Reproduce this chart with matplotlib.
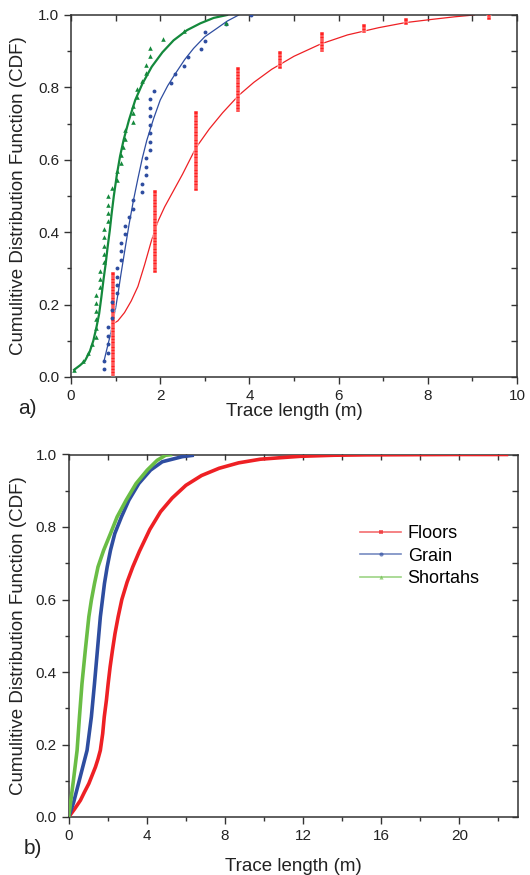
import matplotlib
matplotlib.use("Agg")
import matplotlib.pyplot as plt
from matplotlib.lines import Line2D
from matplotlib.ticker import MultipleLocator
import numpy as np

plt.rcParams['font.family'] = ['Liberation Sans', 'DejaVu Sans']

# ---------------- panel a) ----------------
# green triangles (sample) + green fit
green_x = [0.07, 0.26, 0.37, 0.46, 0.55, 0.55, 0.55, 0.55, 0.55, 0.55, 0.65, 0.65, 0.65,
           0.74, 0.74, 0.74, 0.74, 0.74, 0.84, 0.84, 0.84, 0.84, 0.93, 1.03, 1.03, 1.12,
           1.12, 1.17, 1.21, 1.21, 1.39, 1.39, 1.39, 1.49, 1.49, 1.59, 1.69, 1.69, 1.78,
           1.78, 2.06, 2.53, 3.48]
green_y = [0.020, 0.044, 0.067, 0.090, 0.110, 0.136, 0.159, 0.181, 0.204, 0.226, 0.248,
           0.271, 0.294, 0.318, 0.341, 0.363, 0.386, 0.409, 0.431, 0.453, 0.476, 0.500,
           0.523, 0.545, 0.568, 0.590, 0.613, 0.636, 0.658, 0.681, 0.704, 0.728, 0.750,
           0.773, 0.796, 0.818, 0.841, 0.863, 0.886, 0.909, 0.933, 0.956, 0.978]
green_fit_x = [0.07, 0.20, 0.31, 0.42, 0.50, 0.57, 0.63, 0.68, 0.73, 0.78, 0.82, 0.87,
               0.91, 0.96, 1.03, 1.10, 1.18, 1.30, 1.44, 1.60, 1.81, 2.05, 2.30, 2.60,
               2.90, 3.20, 3.50]
green_fit_y = [0.020, 0.032, 0.044, 0.070, 0.100, 0.137, 0.174, 0.220, 0.270, 0.315,
               0.358, 0.405, 0.450, 0.500, 0.560, 0.610, 0.655, 0.710, 0.765, 0.810,
               0.857, 0.897, 0.930, 0.958, 0.977, 0.992, 1.000]

# blue dots (sample) + blue fit
blue_x = [0.74, 0.74, 0.84, 0.84, 0.84, 0.84, 0.93, 0.93, 0.93, 1.03, 1.03, 1.03, 1.03,
          1.12, 1.12, 1.12, 1.21, 1.21, 1.30, 1.40, 1.40, 1.59, 1.59, 1.69, 1.69, 1.69,
          1.78, 1.78, 1.78, 1.78, 1.78, 1.78, 1.78, 1.87, 2.25, 2.34, 2.53, 2.62, 2.91,
          3.00, 3.00, 3.48, 4.04]
blue_y = [0.021, 0.044, 0.067, 0.090, 0.114, 0.138, 0.162, 0.185, 0.208, 0.231, 0.254,
          0.277, 0.301, 0.324, 0.347, 0.371, 0.394, 0.417, 0.441, 0.464, 0.488, 0.511,
          0.534, 0.558, 0.581, 0.604, 0.627, 0.650, 0.674, 0.697, 0.720, 0.744, 0.767,
          0.790, 0.813, 0.837, 0.860, 0.883, 0.906, 0.929, 0.953, 0.976, 1.000]
blue_fit_x = [0.74, 0.80, 0.87, 0.93, 1.00, 1.06, 1.12, 1.20, 1.30, 1.40, 1.50, 1.60,
              1.70, 1.85, 2.00, 2.17, 2.34, 2.55, 2.75, 3.00, 3.27, 3.50, 3.76]
blue_fit_y = [0.044, 0.075, 0.110, 0.146, 0.190, 0.235, 0.284, 0.345, 0.420, 0.488,
              0.548, 0.605, 0.654, 0.713, 0.765, 0.805, 0.838, 0.877, 0.908, 0.940,
              0.963, 0.983, 1.000]

# red squares: trace lengths and how many traces fall on each
red_len = [0.94, 1.88, 2.81, 3.75, 4.69, 5.63, 6.56, 7.50, 9.38]
red_count = [38, 30, 29, 16, 6, 7, 3, 2, 2]
red_fit_x = [0.93, 1.05, 1.20, 1.35, 1.50, 1.65, 1.80, 1.95, 2.10, 2.30, 2.50, 2.80,
             3.10, 3.40, 3.76, 4.10, 4.50, 5.00, 5.60, 6.20, 6.90, 7.50, 8.10, 8.60, 9.04]
red_fit_y = [0.146, 0.155, 0.178, 0.210, 0.250, 0.310, 0.375, 0.430, 0.470, 0.515,
             0.560, 0.633, 0.685, 0.730, 0.778, 0.814, 0.850, 0.886, 0.920, 0.945,
             0.965, 0.979, 0.988, 0.995, 1.000]

# ---------------- panel b) ----------------
floors_x = [0.0, 0.30, 0.60, 0.80, 1.03, 1.20, 1.37, 1.50, 1.62, 1.74, 1.82, 1.93, 2.02,
            2.12, 2.24, 2.37, 2.53, 2.72, 2.99, 3.28, 3.62, 4.15, 4.70, 5.30, 6.00, 6.80,
            7.70, 8.70, 9.81, 10.8, 11.85, 13.6, 15.2, 17.5, 19.6, 22.5]
floors_y = [0.0, 0.022, 0.046, 0.068, 0.092, 0.115, 0.138, 0.160, 0.184, 0.230, 0.276,
            0.322, 0.368, 0.414, 0.460, 0.506, 0.552, 0.600, 0.648, 0.690, 0.733, 0.793,
            0.842, 0.880, 0.915, 0.942, 0.962, 0.977, 0.987, 0.991, 0.995, 0.998, 0.999,
            0.9995, 1.0, 1.0]
grain_x = [0.0, 0.25, 0.50, 0.94, 1.16, 1.32, 1.47, 1.62, 1.83, 1.97, 2.14, 2.36, 2.70,
           3.08, 3.59, 4.19, 4.79, 5.81, 6.41]
grain_y = [0.0, 0.040, 0.092, 0.184, 0.276, 0.368, 0.460, 0.552, 0.644, 0.690, 0.736,
           0.782, 0.828, 0.874, 0.920, 0.957, 0.980, 0.994, 0.998]
shortahs_x = [0.0, 0.24, 0.43, 0.55, 0.68, 0.85, 1.03, 1.16, 1.32, 1.50, 1.79, 2.14, 2.48,
              2.94, 3.45, 4.02, 4.53, 4.96, 5.30]
shortahs_y = [0.0, 0.100, 0.184, 0.276, 0.368, 0.460, 0.552, 0.598, 0.644, 0.690, 0.736,
              0.782, 0.828, 0.874, 0.920, 0.957, 0.984, 0.998, 1.000]

spine_c = '#333333'
red_c = '#ee2024'
blue_c = '#2e4da0'
green_a = '#14893c'
green_b = '#6abd45'


def style_axes(ax, xmaj, xmin):
    for s in ax.spines.values():
        s.set_color(spine_c)
        s.set_linewidth(1.1)
    ax.set_ylim(0, 1.0)
    ax.xaxis.set_major_locator(MultipleLocator(xmaj))
    ax.xaxis.set_minor_locator(MultipleLocator(xmin))
    ax.yaxis.set_major_locator(MultipleLocator(0.2))
    ax.yaxis.set_minor_locator(MultipleLocator(0.1))
    ax.yaxis.set_major_formatter(plt.FormatStrFormatter('%.1f'))
    ax.tick_params(which='both', direction='out', top=False, right=False,
                   color=spine_c, width=1.0, labelsize=11, labelcolor='#222222')
    ax.tick_params(which='major', length=5)
    ax.tick_params(which='minor', length=3)
    # inward ticks on top and right
    sec_x = ax.secondary_xaxis('top')
    sec_x.xaxis.set_major_locator(MultipleLocator(xmin))
    sec_x.tick_params(direction='in', length=4, color=spine_c, width=1.0, labeltop=False)
    sec_x.spines['top'].set_visible(False)
    sec_y = ax.secondary_yaxis('right')
    sec_y.yaxis.set_major_locator(MultipleLocator(0.1))
    sec_y.tick_params(direction='in', length=4, color=spine_c, width=1.0, labelright=False)
    sec_y.spines['right'].set_visible(False)
    ax.set_xlabel('Trace length (m)', fontsize=13.5, color='#222222')
    ax.set_ylabel('Cumulitive Distribution Function (CDF)', fontsize=13.5, color='#222222')


fig = plt.figure(figsize=(5.3, 8.75), dpi=100)

ax1 = fig.add_axes([71 / 530, 498 / 875, 446 / 530, 362 / 875])
ax1.set_xlim(0, 10)
red_x = np.repeat(red_len, red_count)
red_y = np.arange(1, len(red_x) + 1) / len(red_x)
ax1.plot(red_fit_x, red_fit_y, color=red_c, lw=0.9, zorder=2)
ax1.plot(red_x, red_y, ls='none', marker='s', ms=2.6, mew=0.35, mec='white',
         color='#ff2020', zorder=3)
ax1.plot(blue_fit_x, blue_fit_y, color=blue_c, lw=0.9, zorder=2)
ax1.plot(blue_x, blue_y, ls='none', marker='o', ms=2.8, mew=0, color=blue_c, zorder=3)
ax1.plot(green_fit_x, green_fit_y, color=green_a, lw=1.6, zorder=2)
ax1.plot(green_x, green_y, ls='none', marker='^', ms=3.3, mew=0, color=green_a, zorder=3)
style_axes(ax1, 2, 1)
ax1.yaxis.set_label_coords(-0.098, 0.5)
ax1.xaxis.labelpad = 0
fig.text(18 / 530, 1 - 408 / 875, 'a)', fontsize=15, color='#222222', va='center')

ax2 = fig.add_axes([68.7 / 530, 58 / 875, 449.3 / 530, 362.5 / 875])
ax2.set_xlim(0, 23)
ax2.plot(floors_x, floors_y, color=red_c, lw=2.6, solid_capstyle='butt', zorder=3)
ax2.plot(grain_x, grain_y, color=blue_c, lw=2.6, solid_capstyle='butt', zorder=3)
ax2.plot(shortahs_x, shortahs_y, color=green_b, lw=2.6, solid_capstyle='butt', zorder=3)
style_axes(ax2, 4, 2)
ax2.yaxis.set_label_coords(-0.092, 0.5)
ax2.xaxis.labelpad = 11
fig.text(24 / 530, 1 - 848 / 875, 'b)', fontsize=15, color='#222222', va='center')

handles = [Line2D([], [], color=c, lw=1.2, alpha=0.65, marker=m, ms=3, mew=0)
           for c, m in [(red_c, 's'), (blue_c, 'o'), (green_b, '^')]]
ax2.legend(handles, ['Floors', 'Grain', 'Shortahs'], loc='upper left',
           bbox_to_anchor=(0.648, 0.806), frameon=False, fontsize=13,
           handlelength=2.3, handletextpad=0.35, labelspacing=0.32,
           borderpad=0, borderaxespad=0)

fig.savefig('out.png', dpi=100)
